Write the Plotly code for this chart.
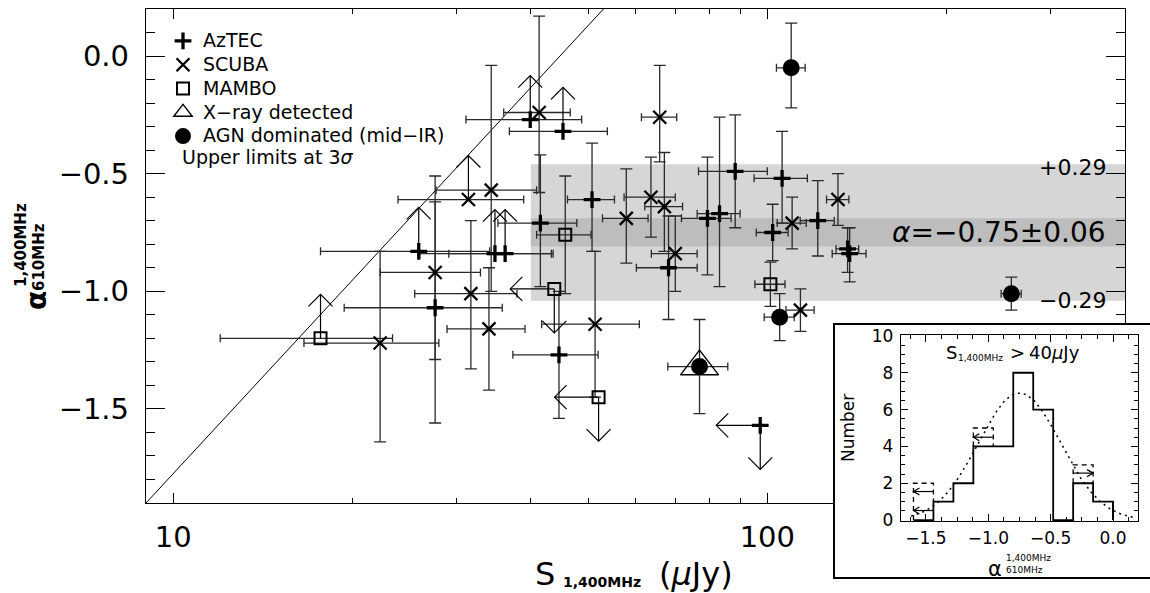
import numpy as np
import plotly.graph_objects as go

# ---------------- main panel data ----------------
# AzTEC sources (+)
aztec_S = [25.9, 27.6, 34.8, 36.2, 39.9, 41.5, 45.3, 44.6, 50.7, 68.2, 79.3, 83.1, 88.3, 105.9, 102.1, 121.6, 136.5, 137.6, 97.3]
aztec_S_err = [8.2, 8.2, 8.8, 7.1, 8.8, 6.3, 8.5, 7.3, 4.6, 8.0, 7.6, 6.9, 11.7, 10.9, 6.3, 8.0, 6.0, 9.0, None]
aztec_alpha = [-0.83, -1.07, -0.84, -0.84, -0.27, -0.71, -0.32, -1.27, -0.61, -0.90, -0.69, -0.67, -0.49, -0.52, -0.75, -0.70, -0.82, -0.84, -1.57]
aztec_err_plus = [None, 0.56, None, None, None, 0.29, None, 0.27, 0.24, 0.22, 0.26, 0.41, 0.24, 0.20, 0.12, 0.17, 0.09, 0.11, None]
aztec_err_minus = [None, 0.49, None, None, None, 0.27, None, 0.27, 0.22, 0.22, 0.24, 0.31, 0.24, 0.19, 0.12, 0.15, 0.10, 0.12, None]
aztec_limit = ['up', '', 'up', 'up', 'up', '', 'up', '', '', '', '', '', '', '', '', '', '', '', 'downleft']

# SCUBA sources (x)
scuba_S = [22.3, 27.6, 31.4, 31.7, 34.0, 34.3, 41.3, 51.3, 57.9, 63.7, 65.9, 67.1, 70.0, 110.1, 131.5, 113.7]
scuba_S_err = [5.7, 5.3, 7.5, 6.2, 5.1, 6.6, 5.3, 9.6, 5.1, 6.3, 4.5, 4.9, 6.2, 6.2, 5.7, 6.2]
scuba_alpha = [-1.22, -0.92, -0.61, -1.01, -1.16, -0.57, -0.24, -1.14, -0.69, -0.60, -0.26, -0.64, -0.84, -0.71, -0.61, -1.08]
scuba_err_plus = [0.39, 0.30, None, 0.31, 0.26, 0.53, 0.41, 0.31, 0.21, 0.17, 0.22, 0.23, 0.16, 0.11, 0.11, 0.09]
scuba_err_minus = [0.42, 0.37, None, 0.32, 0.26, 0.43, 0.34, 0.31, 0.19, 0.17, 0.19, 0.19, 0.16, 0.11, 0.11, 0.09]
scuba_limit = ['', '', 'up', '', '', '', '', '', '', '', '', '', '', '', '', '']

# MAMBO sources (open squares)
mambo_S = [17.7, 45.7, 43.8, 52.0, 101.2]
mambo_S_err = [5.7, 4.8, None, None, 5.9]
mambo_alpha = [-1.20, -0.76, -0.99, -1.45, -0.97]
mambo_err_plus = [None, 0.25, None, None, 0.094]
mambo_err_minus = [None, 0.25, None, None, 0.094]
mambo_limit = ['up', '', 'downleft', 'downleft', '']

# AGN dominated (mid-IR) sources (filled circles)
agn_S = [109.7, 104.9, 257.5, 76.9]
agn_S_err = [6.1, 6.1, 10.0, 8.9]
agn_alpha = [-0.05, -1.11, -1.01, -1.32]
agn_err_plus = [0.19, 0.10, 0.07, 0.20]
agn_err_minus = [0.17, 0.10, 0.07, 0.20]

# X-ray detected
xray_S = [76.9]
xray_alpha = [-1.32]

# mean spectral index band
alpha_mean = -0.75
alpha_mean_err = 0.06
alpha_scatter = 0.29
band_S = [40.0, 400.0]

# 610-MHz detection-limit line
diag_S = [9.0, 53.0]
diag_alpha = [-1.9, 0.2]

# ---------------- inset histogram data ----------------
hist_edges = [-1.60, -1.44, -1.28, -1.12, -0.96, -0.80, -0.64, -0.48, -0.32, -0.16, 0.00]
hist_counts = [0, 1, 2, 4, 4, 8, 6, 0, 2, 1]
lim_bins = [0, 3, 8]
lim_tops = [2, 5, 3]
lim_arrow_bin = [0, 0, 3, 8]
lim_arrow_y = [1.55, 0.52, 4.5, 2.55]
lim_arrow_dir = ['left', 'left', 'left', 'right']
gauss_amp = 6.9
gauss_mean = -0.75
gauss_sigma = 0.33

# ---------------- geometry ----------------
W, H = 1150, 593
ML, MR, MT, MB = 146, 0, 9, 10
PW, PH = W - ML - MR, H - MT - MB
def pxx(x): return (x - ML) / PW
def pxy(y): return (H - MB - y) / PH

MAIN = dict(l=146, r=1125, t=9, b=503)
INS = dict(l=901, r=1138, t=335, b=521)
BOX = dict(l=835, r=1150, t=325, b=577)

XR = [np.log10(9.0), np.log10(400.0)]
YR = [-1.9, 0.2]
dex_per_px = (XR[1] - XR[0]) / (MAIN['r'] - MAIN['l'])
a_per_px = (YR[1] - YR[0]) / (MAIN['b'] - MAIN['t'])

IXR = [-1.7, 0.2]
IYR = [-0.05, 10.05]
ix_per_px = (IXR[1] - IXR[0]) / (INS['r'] - INS['l'])
iy_per_px = (IYR[1] - IYR[0]) / (INS['b'] - INS['t'])

FONT = 'DejaVu Sans'
ERRC = '#2a2a2a'
def F(size):
    return dict(family=FONT, size=size, color='black')

fig = go.Figure()

# shaded bands
lo1, hi1 = alpha_mean - alpha_scatter, alpha_mean + alpha_scatter
lo2, hi2 = alpha_mean - alpha_mean_err, alpha_mean + alpha_mean_err
fig.add_trace(go.Scatter(x=[band_S[0], band_S[1], band_S[1], band_S[0]], y=[lo1, lo1, hi1, hi1],
                         fill='toself', fillcolor='#d6d6d6', line=dict(width=0), mode='lines',
                         showlegend=False, hoverinfo='skip'))
fig.add_trace(go.Scatter(x=[band_S[0], band_S[1], band_S[1], band_S[0]], y=[lo2, lo2, hi2, hi2],
                         fill='toself', fillcolor='#bdbdbd', line=dict(width=0), mode='lines',
                         showlegend=False, hoverinfo='skip'))

# diagonal
fig.add_trace(go.Scatter(x=diag_S, y=diag_alpha, mode='lines', line=dict(color='black', width=1),
                         showlegend=False, hoverinfo='skip'))

# error bars (all groups)
allS = aztec_S + scuba_S + mambo_S + agn_S
allSe = aztec_S_err + scuba_S_err + mambo_S_err + agn_S_err
allA = aztec_alpha + scuba_alpha + mambo_alpha + agn_alpha
allEp = aztec_err_plus + scuba_err_plus + mambo_err_plus + agn_err_plus
allEm = aztec_err_minus + scuba_err_minus + mambo_err_minus + agn_err_minus

iy = [i for i in range(len(allS)) if allEp[i] is not None]
fig.add_trace(go.Scatter(x=[allS[i] for i in iy], y=[allA[i] for i in iy], mode='markers',
                         marker=dict(size=1, color='rgba(0,0,0,0)'),
                         error_y=dict(type='data', symmetric=False, array=[allEp[i] for i in iy],
                                      arrayminus=[allEm[i] for i in iy], color=ERRC, thickness=1.3, width=6),
                         showlegend=False, hoverinfo='skip'))
ix = [i for i in range(len(allS)) if allSe[i] is not None]
fig.add_trace(go.Scatter(x=[allS[i] for i in ix], y=[allA[i] for i in ix], mode='markers',
                         marker=dict(size=1, color='rgba(0,0,0,0)'),
                         error_x=dict(type='data', array=[allSe[i] for i in ix], color=ERRC,
                                      thickness=1.3, width=4),
                         showlegend=False, hoverinfo='skip'))

# limit arrows
ARROW_PX, HEAD_PX = 44, 12
ax_, ay_ = [], []
def add_arrow(S, a, kind):
    L_a = ARROW_PX * a_per_px
    L_x = ARROW_PX * dex_per_px
    h_a = HEAD_PX * a_per_px
    h_x = HEAD_PX * dex_per_px
    if kind == 'up' or kind == 'down':
        sgn = 1 if kind == 'up' else -1
        tip = a + sgn * L_a
        ax_.extend([S, S, None, S * 10 ** (-h_x), S, S * 10 ** (h_x), None])
        ay_.extend([a, tip, None, tip - sgn * h_a, tip, tip - sgn * h_a, None])
    elif kind == 'left':
        tip = S * 10 ** (-L_x)
        back = S * 10 ** (-L_x + h_x)
        ax_.extend([S, tip, None, back, tip, back, None])
        ay_.extend([a, a, None, a + h_a, a, a - h_a, None])

for S_list, A_list, L_list in [(aztec_S, aztec_alpha, aztec_limit), (scuba_S, scuba_alpha, scuba_limit),
                               (mambo_S, mambo_alpha, mambo_limit)]:
    for S, a, k in zip(S_list, A_list, L_list):
        if k == 'up':
            add_arrow(S, a, 'up')
        elif k == 'downleft':
            add_arrow(S, a, 'down')
            add_arrow(S, a, 'left')
fig.add_trace(go.Scatter(x=ax_, y=ay_, mode='lines', line=dict(color='black', width=1.2),
                         showlegend=False, hoverinfo='skip'))

# markers
def LN(t):
    return '<span style="font-size:19px">%s</span>' % t
fig.add_trace(go.Scatter(x=aztec_S, y=aztec_alpha, mode='markers', name=LN('AzTEC'),
                         marker=dict(symbol='cross-thin', size=12, color='black',
                                     line=dict(color='black', width=3.3))))
fig.add_trace(go.Scatter(x=scuba_S, y=scuba_alpha, mode='markers', name=LN('SCUBA'),
                         marker=dict(symbol='x-thin', size=13, color='black',
                                     line=dict(color='black', width=2.3))))
fig.add_trace(go.Scatter(x=mambo_S, y=mambo_alpha, mode='markers', name=LN('MAMBO'),
                         marker=dict(symbol='square-open', size=12, color='black',
                                     line=dict(color='black', width=2))))
fig.add_trace(go.Scatter(x=xray_S, y=xray_alpha, mode='markers', name=LN('X\u2212ray detected'),
                         marker=dict(symbol='triangle-up-open', size=33, color='black',
                                     line=dict(color='black', width=1.4))))
fig.add_trace(go.Scatter(x=agn_S, y=agn_alpha, mode='markers', name=LN('AGN dominated (mid\u2212IR)'),
                         marker=dict(symbol='circle', size=17, color='black')))

# inset box subplot (x2/y2)
fig.add_trace(go.Scatter(x=[], y=[], xaxis='x2', yaxis='y2', showlegend=False, hoverinfo='skip'))

# inset histogram (x3/y3)
step_x = hist_edges
step_y = hist_counts + [0]
fig.add_trace(go.Scatter(x=step_x, y=step_y, mode='lines', line=dict(color='black', width=1.8, shape='hv'),
                         xaxis='x3', yaxis='y3', showlegend=False, hoverinfo='skip'))
fig.add_trace(go.Scatter(x=[hist_edges[-1], hist_edges[-1]], y=[hist_counts[-1], 0], mode='lines',
                         line=dict(color='black', width=1.8), xaxis='x3', yaxis='y3',
                         showlegend=False, hoverinfo='skip'))
# dashed limit outlines
dx_, dy_ = [], []
for b, top in zip(lim_bins, lim_tops):
    l, r = hist_edges[b], hist_edges[b + 1]
    lb = max(hist_counts[b], hist_counts[b - 1]) if b > 0 else 0
    rb = max(hist_counts[b], hist_counts[b + 1]) if b + 1 < len(hist_counts) else 0
    dx_.extend([l, l, r, r, None])
    dy_.extend([lb, top, top, rb, None])
fig.add_trace(go.Scatter(x=dx_, y=dy_, mode='lines', line=dict(color='black', width=1.3, dash='5px,4px'),
                         xaxis='x3', yaxis='y3', showlegend=False, hoverinfo='skip'))
# inset arrows
iax, iay = [], []
hx, hy = 6 * ix_per_px, 3.5 * iy_per_px
for b, yv, d in zip(lim_arrow_bin, lim_arrow_y, lim_arrow_dir):
    l, r = hist_edges[b], hist_edges[b + 1]
    if d == 'left':
        iax.extend([r, l, None, l + hx, l, l + hx, None])
    else:
        iax.extend([l, r, None, r - hx, r, r - hx, None])
    iay.extend([yv, yv, None, yv + hy, yv, yv - hy, None])
fig.add_trace(go.Scatter(x=iax, y=iay, mode='lines', line=dict(color='black', width=1.2),
                         xaxis='x3', yaxis='y3', showlegend=False, hoverinfo='skip'))
# gaussian fit
gx = np.linspace(-1.62, 0.17, 200)
gy = gauss_amp * np.exp(-0.5 * ((gx - gauss_mean) / gauss_sigma) ** 2)
fig.add_trace(go.Scatter(x=gx, y=gy, mode='lines', line=dict(color='black', width=1.5, dash='2px,4px'),
                         xaxis='x3', yaxis='y3', showlegend=False, hoverinfo='skip'))

# ---------------- layout ----------------
axis_common = dict(showline=True, linecolor='black', linewidth=1.3, mirror='ticks', ticks='inside',
                   tickcolor='black', showgrid=False, zeroline=False)

fig.update_layout(
    width=W, height=H,
    margin=dict(l=ML, r=MR, t=MT, b=MB),
    paper_bgcolor='white', plot_bgcolor='white',
    font=F(16),
    showlegend=True,
    legend=dict(x=pxx(163), y=pxy(24), xanchor='left', yanchor='top', bgcolor='rgba(0,0,0,0)',
                font=F(16), tracegroupgap=0, itemsizing='trace'),
    xaxis=dict(type='log', range=XR, domain=[pxx(MAIN['l']), pxx(MAIN['r'])], anchor='y',
               tickmode='array', tickvals=[10, 100], ticktext=['10', '100'], ticklen=10, tickwidth=1.2,
               minor=dict(tickmode='array', tickvals=[20, 30, 40, 50, 60, 70, 80, 90, 200, 300],
                          ticklen=5, ticks='inside', tickcolor='black', tickwidth=1.2),
               tickfont=F(29), ticklabelstandoff=8, **axis_common),
    yaxis=dict(range=YR, domain=[pxy(MAIN['b']), pxy(MAIN['t'])], anchor='x',
               tickmode='array', tickvals=[-1.5, -1.0, -0.5, 0.0],
               ticktext=['\u22121.5', '\u22121.0', '\u22120.5', '0.0'], ticklen=19, tickwidth=1.2,
               minor=dict(dtick=0.1, ticklen=9, ticks='inside', tickcolor='black', tickwidth=1.2),
               tickfont=F(29), ticklabelstandoff=10, **axis_common),
    xaxis2=dict(domain=[pxx(BOX['l']), 1.0], range=[0, 1], anchor='y2', showline=True, mirror=True,
                linecolor='black', linewidth=2, showticklabels=False, ticks='', showgrid=False, zeroline=False),
    yaxis2=dict(domain=[pxy(BOX['b']), pxy(BOX['t'])], range=[0, 1], anchor='x2', showline=True,
                linecolor='black', linewidth=2, showticklabels=False, ticks='', showgrid=False, zeroline=False),
    xaxis3=dict(domain=[pxx(INS['l']), pxx(INS['r'])], range=IXR, anchor='y3',
                tickmode='array', tickvals=[-1.5, -1.0, -0.5, 0.0],
                ticktext=['\u22121.5', '\u22121.0', '\u22120.5', '0.0'], ticklen=7, tickwidth=1,
                minor=dict(dtick=0.125, ticklen=4, ticks='inside', tickcolor='black'),
                tickfont=F(17), ticklabelstandoff=1, **axis_common),
    yaxis3=dict(domain=[pxy(INS['b']), pxy(INS['t'])], range=IYR, anchor='x3',
                tickmode='array', tickvals=[0, 2, 4, 6, 8, 10], ticklen=7, tickwidth=1,
                minor=dict(dtick=0.5, ticklen=4, ticks='inside', tickcolor='black'),
                tickfont=F(17), ticklabelstandoff=3, **axis_common),
)

ann = []
def A(text, x, y, size, xanchor='center', yanchor='middle', **kw):
    d = dict(text=text, x=pxx(x), y=pxy(y), xref='paper', yref='paper', showarrow=False, font=F(size),
             xanchor=xanchor, yanchor=yanchor)
    d.update(kw)
    ann.append(d)

# main y title
A('<b>\u03b1</b>', 36, 301, 28, textangle=-90)
A('<b>1,400MHz</b>', 21, 245, 15, textangle=-90)
A('<b>610MHz</b>', 39, 257, 15, textangle=-90)
# main x title
A('S', 533, 574, 32, xanchor='left')
A('<b>1,400MHz</b>', 561, 582, 14, xanchor='left')
A('(<i>\u03bc</i>Jy)', 657, 574, 32, xanchor='left')
# legend note
A('Upper limits at 3<i>\u03c3</i>', 180, 157, 19, xanchor='left')
# inset texts
A('S', 944, 352, 18, xanchor='left')
A('1,400MHz', 956, 358, 9, xanchor='left')
A('>', 1008, 352, 18, xanchor='left')
A('40<i>\u03bc</i>Jy', 1027, 352, 18, xanchor='left')
A('Number', 848, 428, 17, textangle=-90)
A('\u03b1', 995, 569, 21)
A('1,400MHz', 1004, 558, 9, xanchor='left')
A('610MHz', 1004, 570, 9, xanchor='left')

# band labels
ann.append(dict(text='+%.2f' % alpha_scatter, x=np.log10(band_S[1]), y=alpha_mean + alpha_scatter,
                xref='x', yref='y', xanchor='right', yanchor='middle', xshift=-17, yshift=-3,
                showarrow=False, font=F(22)))
ann.append(dict(text='<i>\u03b1</i>=\u2212%.2f\u00b1%.2f' % (abs(alpha_mean), alpha_mean_err),
                x=np.log10(band_S[1]), y=alpha_mean, xref='x', yref='y', xanchor='right', yanchor='middle',
                xshift=-17, showarrow=False, font=F(28)))
ann.append(dict(text='\u2212%.2f' % alpha_scatter, x=np.log10(band_S[1]), y=alpha_mean - alpha_scatter,
                xref='x', yref='y', xanchor='right', yanchor='middle', xshift=-17, yshift=0,
                showarrow=False, font=F(22)))

fig.update_layout(annotations=ann)
fig.write_html('out.html', config={'displayModeBar': False},
               post_script="document.body.style.margin='0';document.body.style.padding='0';")
